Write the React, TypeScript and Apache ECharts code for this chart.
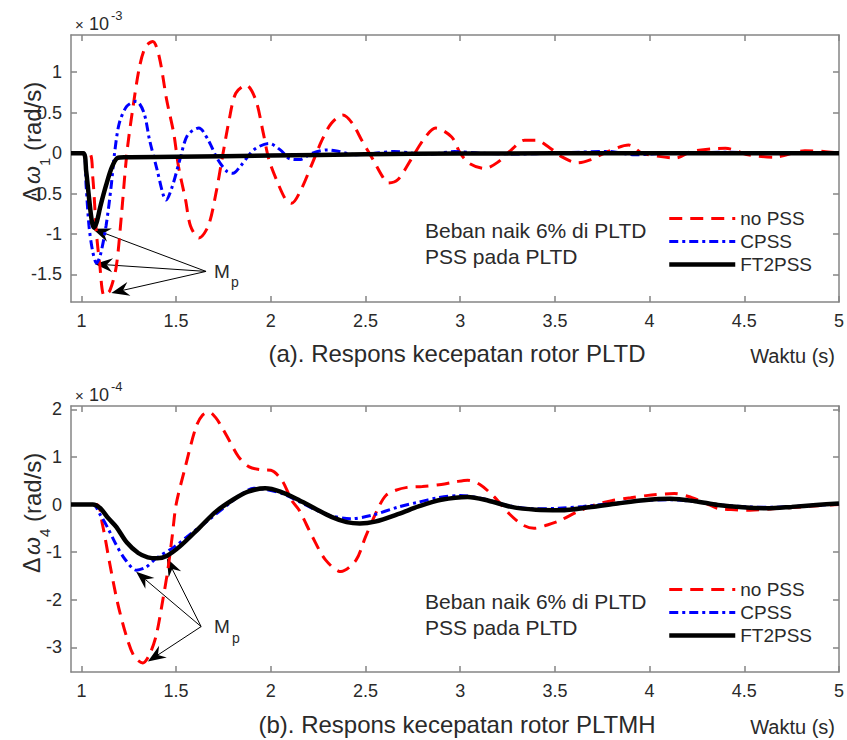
import React, { useEffect, useRef } from 'react';
import * as echarts from 'echarts';

// Shared axis settings
const xTicks = [1, 1.5, 2, 2.5, 3, 3.5, 4, 4.5, 5];
const xRange = [0.945, 5];

// (a) Δω1, plotted in units of 1e-3 rad/s
const yTicksA = [-1.5, -1, -0.5, 0, 0.5, 1];
const yRangeA = [-1.84, 1.46];
// (b) Δω4, plotted in units of 1e-4 rad/s
const yTicksB = [-3, -2, -1, 0, 1, 2];
const yRangeB = [-3.52, 2.07];

const seriesNames = ['no PSS', 'CPSS', 'FT2PSS'];

// ---- (a) rotor speed deviation of PLTD: [time (s), value] ----
const noPssA = [
  [0.945, 0], [1.04, 0], [1.06, -0.3], [1.079, -0.98], [1.096, -1.36], [1.12, -1.76], [1.15, -1.7],
  [1.184, -1.4], [1.21, -0.8], [1.24, 0], [1.27, 0.53], [1.307, 1.07], [1.34, 1.32], [1.377, 1.38],
  [1.41, 1.2], [1.45, 0.66], [1.487, 0.25], [1.513, -0.17], [1.55, -0.58], [1.576, -0.9], [1.62, -1.05],
  [1.67, -0.9], [1.71, -0.5], [1.745, -0.04], [1.78, 0.41], [1.815, 0.74], [1.87, 0.84], [1.92, 0.66],
  [1.96, 0.25], [1.99, -0.08], [2.03, -0.33], [2.08, -0.58], [2.11, -0.62], [2.16, -0.45], [2.22, -0.12],
  [2.27, 0.16], [2.32, 0.37], [2.38, 0.47], [2.43, 0.37], [2.48, 0.16], [2.54, -0.08], [2.59, -0.29],
  [2.62, -0.37], [2.67, -0.33], [2.74, -0.08], [2.81, 0.18], [2.87, 0.31], [2.955, 0.2], [3.0, 0],
  [3.05, -0.13], [3.13, -0.19], [3.2, -0.11], [3.27, 0.04], [3.34, 0.16], [3.4, 0.16], [3.47, 0.07],
  [3.54, -0.05], [3.62, -0.12], [3.69, -0.08], [3.78, 0.02], [3.89, 0.1], [3.96, 0], [4.05, -0.04],
  [4.14, -0.06], [4.22, 0.02], [4.4, 0.06], [4.52, -0.02], [4.66, -0.05], [4.82, 0.03], [4.92, 0.02], [5, 0],
];
const cpssA = [
  [0.945, 0], [1.01, 0], [1.025, -0.41], [1.04, -0.9], [1.06, -1.22], [1.08, -1.36], [1.1, -1.26],
  [1.13, -0.9], [1.157, -0.41], [1.175, 0], [1.2, 0.37], [1.24, 0.58], [1.29, 0.64], [1.33, 0.5],
  [1.36, 0.16], [1.4, -0.21], [1.43, -0.5], [1.447, -0.58], [1.48, -0.41], [1.52, -0.08], [1.56, 0.22],
  [1.62, 0.31], [1.67, 0.16], [1.72, -0.08], [1.77, -0.23], [1.8, -0.25], [1.84, -0.16], [1.91, 0.04],
  [1.99, 0.12], [2.05, 0.04], [2.1, -0.07], [2.15, -0.08], [2.22, 0], [2.3, 0.04], [2.36, 0.02],
  [2.45, -0.02], [2.55, 0], [2.65, 0.02], [2.75, 0], [2.85, -0.01], [2.97, 0.02], [3.1, 0], [3.3, -0.01],
  [3.5, 0], [3.78, 0.02], [3.92, -0.02], [4.1, 0], [4.4, 0.01], [4.7, 0], [5, 0],
];
const ft2pssA = [
  [0.945, 0], [1.01, 0], [1.025, -0.22], [1.04, -0.55], [1.055, -0.84], [1.066, -0.92], [1.08, -0.86],
  [1.1, -0.66], [1.13, -0.4], [1.16, -0.18], [1.19, -0.06], [1.23, -0.05], [1.5, -0.045], [2.0, -0.03],
  [2.5, -0.015], [3.0, -0.005], [4.0, 0], [5, 0],
];

// ---- (b) rotor speed deviation of PLTMH: [time (s), value] ----
const noPssB = [
  [0.945, 0], [1.08, 0], [1.11, -0.4], [1.15, -1.25], [1.19, -2.05], [1.24, -2.8], [1.28, -3.2],
  [1.324, -3.33], [1.36, -3.15], [1.395, -2.75], [1.43, -2.0], [1.456, -1.38], [1.48, -0.65], [1.5, 0],
  [1.544, 0.72], [1.605, 1.63], [1.64, 1.88], [1.675, 1.94], [1.71, 1.82], [1.745, 1.6], [1.78, 1.35],
  [1.83, 1.0], [1.886, 0.79], [1.95, 0.73], [2.0, 0.72], [2.06, 0.5], [2.11, 0.09], [2.15, -0.12],
  [2.22, -0.68], [2.29, -1.17], [2.37, -1.41], [2.45, -1.17], [2.5, -0.68], [2.57, -0.05], [2.61, 0.2],
  [2.66, 0.3], [2.72, 0.36], [2.8, 0.38], [2.9, 0.42], [2.98, 0.48], [3.04, 0.51], [3.1, 0.43],
  [3.18, 0.16], [3.26, -0.2], [3.33, -0.43], [3.39, -0.5], [3.46, -0.43], [3.53, -0.33], [3.62, -0.15],
  [3.71, -0.01], [3.8, 0.08], [3.9, 0.14], [4.01, 0.2], [4.13, 0.23], [4.22, 0.15], [4.3, 0.02],
  [4.36, -0.08], [4.45, -0.11], [4.53, -0.12], [4.65, -0.09], [4.8, -0.05], [4.9, -0.02], [5, 0],
];
const cpssB = [
  [0.945, 0], [1.06, 0], [1.1, -0.22], [1.14, -0.5], [1.18, -0.82], [1.23, -1.15], [1.29, -1.38],
  [1.34, -1.32], [1.395, -1.13], [1.49, -0.89], [1.58, -0.61], [1.67, -0.33], [1.78, 0.02], [1.85, 0.23],
  [1.91, 0.34], [1.97, 0.32], [2.06, 0.23], [2.15, 0.06], [2.24, -0.12], [2.32, -0.24], [2.42, -0.3],
  [2.53, -0.23], [2.675, -0.05], [2.78, 0.05], [2.88, 0.14], [3.0, 0.19], [3.12, 0.12], [3.25, -0.02],
  [3.38, -0.09], [3.52, -0.08], [3.65, -0.04], [3.8, 0.02], [3.95, 0.08], [4.1, 0.1], [4.24, 0.06],
  [4.38, -0.01], [4.52, -0.05], [4.65, -0.06], [4.8, -0.03], [5, 0.01],
];
const ft2pssB = [
  [0.945, 0], [1.06, 0], [1.1, -0.08], [1.14, -0.28], [1.184, -0.47], [1.24, -0.8], [1.3, -1.02],
  [1.35, -1.11], [1.4, -1.13], [1.45, -1.08], [1.52, -0.88], [1.62, -0.5], [1.71, -0.15], [1.8, 0.1],
  [1.88, 0.27], [1.97, 0.34], [2.05, 0.27], [2.15, 0.09], [2.24, -0.1], [2.32, -0.26], [2.4, -0.37],
  [2.47, -0.4], [2.55, -0.36], [2.68, -0.19], [2.78, -0.04], [2.9, 0.1], [3.04, 0.16], [3.15, 0.08],
  [3.27, -0.05], [3.4, -0.11], [3.53, -0.12], [3.68, -0.06], [3.83, 0.02], [3.97, 0.09], [4.11, 0.12],
  [4.24, 0.07], [4.36, -0.01], [4.49, -0.06], [4.62, -0.08], [4.75, -0.05], [4.88, -0.01], [5, 0.02],
];

// Mp pointers: [from, to] in data units of each panel
const mpArrowsA = [
  [[1.658, -1.462], [1.059, -0.935]],
  [[1.658, -1.462], [1.07, -1.37]],
  [[1.658, -1.462], [1.158, -1.728]],
];
const mpArrowsB = [
  [[1.632, -2.566], [1.451, -1.132]],
  [[1.632, -2.566], [1.289, -1.413]],
  [[1.632, -2.566], [1.351, -3.3]],
];

const FONT = '"Liberation Sans", Arial, Helvetica, sans-serif';
const TXT = '#2a2a2a';
const AXC = '#858585';

const lineStyles = [
  { color: '#ff0000', width: 3, type: [13, 8] },
  { color: '#0000ff', width: 3, type: [9, 4, 3, 4] },
  { color: '#000000', width: 4.5, type: 'solid' },
];

const GRID_LEFT = 71;
const GRID_W = 770;
const GRID_A_TOP = 35;
const GRID_B_TOP = 406;
const GRID_H = 267;
const DY = GRID_B_TOP - GRID_A_TOP;

function xAxisCfg(gridIndex: number, position: 'bottom' | 'top') {
  const bottom = position === 'bottom';
  return {
    type: 'value',
    gridIndex,
    position,
    min: xRange[0],
    max: xRange[1],
    splitLine: { show: false },
    axisLine: { show: true, onZero: false, lineStyle: { color: AXC, width: 1.5 } },
    axisTick: { show: true, inside: true, length: 6, customValues: xTicks, lineStyle: { color: AXC, width: 1.5 } },
    axisLabel: {
      show: bottom,
      customValues: xTicks,
      margin: 10,
      fontSize: 18,
      fontFamily: FONT,
      color: TXT,
      formatter: (v: number) => String(v),
    },
  };
}

function yAxisCfg(gridIndex: number, position: 'left' | 'right', range: number[], ticks: number[]) {
  const left = position === 'left';
  return {
    type: 'value',
    gridIndex,
    position,
    min: range[0],
    max: range[1],
    splitLine: { show: false },
    axisLine: { show: true, onZero: false, lineStyle: { color: AXC, width: 1.5 } },
    axisTick: { show: true, inside: true, length: 6, customValues: ticks, lineStyle: { color: AXC, width: 1.5 } },
    axisLabel: {
      show: left,
      customValues: ticks,
      margin: 9,
      fontSize: 18,
      fontFamily: FONT,
      color: TXT,
      formatter: (v: number) => String(v),
    },
  };
}

function lineSeries(name: string, data: number[][], styleIdx: number, axisIdx: number) {
  const s = lineStyles[styleIdx];
  return {
    type: 'line',
    name,
    xAxisIndex: axisIdx,
    yAxisIndex: axisIdx,
    data,
    symbol: 'none',
    showSymbol: false,
    smooth: 0.3,
    silent: true,
    z: 2 + styleIdx,
    itemStyle: { color: s.color },
    lineStyle: { color: s.color, width: s.width, type: s.type, cap: 'butt' },
  };
}

function legendCfg(top: number) {
  return {
    data: seriesNames,
    left: 667,
    top,
    orient: 'vertical',
    padding: 0,
    itemWidth: 66,
    itemHeight: 14,
    itemGap: 4,
    selectedMode: false,
    // line-only keys: hide the marker glyph, keep the stroke
    itemStyle: { opacity: 0 },
    lineStyle: { width: 'inherit', opacity: 1 },
    textStyle: { fontSize: 19, fontFamily: FONT, color: TXT },
  };
}

const baseOption = {
  animation: false,
  backgroundColor: '#ffffff',
  grid: [
    { left: GRID_LEFT, top: GRID_A_TOP, width: GRID_W, height: GRID_H },
    { left: GRID_LEFT, top: GRID_B_TOP, width: GRID_W, height: GRID_H - 1 },
  ],
  xAxis: [xAxisCfg(0, 'bottom'), xAxisCfg(0, 'top'), xAxisCfg(1, 'bottom'), xAxisCfg(1, 'top')],
  yAxis: [
    yAxisCfg(0, 'left', yRangeA, yTicksA),
    yAxisCfg(0, 'right', yRangeA, yTicksA),
    yAxisCfg(1, 'left', yRangeB, yTicksB),
    yAxisCfg(1, 'right', yRangeB, yTicksB),
  ],
  legend: [legendCfg(209), legendCfg(209 + DY)],
  series: [
    lineSeries(seriesNames[0], noPssA, 0, 0),
    lineSeries(seriesNames[1], cpssA, 1, 0),
    lineSeries(seriesNames[2], ft2pssA, 2, 0),
    lineSeries(seriesNames[0], noPssB, 0, 2),
    lineSeries(seriesNames[1], cpssB, 1, 2),
    lineSeries(seriesNames[2], ft2pssB, 2, 2),
  ],
};

function text(x: number, y: number, str: string, fontSize: number, extra: any = {}) {
  return {
    type: 'text',
    x,
    y,
    silent: true,
    style: {
      text: str,
      fontSize,
      fontFamily: FONT,
      fill: TXT,
      align: 'left',
      verticalAlign: 'middle',
      ...extra,
    },
  };
}

// Rotated y-axis title: Δω with subscript, then the unit (reads bottom to top)
function yTitle(cx: number, bottomY: number, sub: string) {
  return {
    type: 'group',
    x: cx,
    y: bottomY,
    rotation: Math.PI / 2,
    silent: true,
    children: [
      text(1, 0, 'Δ', 23),
      text(19, 0, 'ω', 23, { fontStyle: 'italic' }),
      text(37, 12, sub, 15),
      text(52, 0, '(rad/s)', 24),
    ],
  };
}

function panelTexts(dy: number, exp: string, sub: string, caption: string) {
  return [
    text(75, 24 + dy, '×', 15),
    text(89, 24 + dy, '10', 18),
    text(111, 15 + dy, exp, 13),
    yTitle(32, 203 + dy, sub),
    text(425, 230 + dy, 'Beban naik 6% di PLTD', 21),
    text(425, 256 + dy, 'PSS pada PLTD', 21),
    text(457, 353 + dy, caption, 24, { align: 'center' }),
    text(835, 356 + dy, 'Waktu (s)', 20, { align: 'right' }),
  ];
}

function arrowGraphics(chart: any, arrows: number[][][], seriesIndex: number) {
  const out: any[] = [];
  const L = 18;
  const W = 7;
  const N = 12;
  arrows.forEach(([from, to]) => {
    const p0 = chart.convertToPixel({ seriesIndex }, from);
    const p1 = chart.convertToPixel({ seriesIndex }, to);
    const dx = p1[0] - p0[0];
    const dy = p1[1] - p0[1];
    const len = Math.hypot(dx, dy);
    const ux = dx / len;
    const uy = dy / len;
    const nx = -uy;
    const ny = ux;
    const bx = p1[0] - ux * L;
    const by = p1[1] - uy * L;
    const notch = [p1[0] - ux * N, p1[1] - uy * N];
    out.push({
      type: 'line',
      silent: true,
      shape: { x1: p0[0], y1: p0[1], x2: notch[0], y2: notch[1] },
      style: { stroke: '#000', lineWidth: 1 },
    });
    out.push({
      type: 'polygon',
      silent: true,
      shape: { points: [p1, [bx + nx * W, by + ny * W], notch, [bx - nx * W, by - ny * W]] },
      style: { fill: '#000' },
    });
  });
  return out;
}

export default function App() {
  const ref = useRef<HTMLDivElement>(null);

  useEffect(() => {
    if (!ref.current) return;
    const chart = echarts.init(ref.current, null, { renderer: 'svg' });
    chart.setOption(baseOption as any);

    const graphics = [
      ...panelTexts(0, '-3', '1', '(a). Respons kecepatan rotor PLTD'),
      ...panelTexts(DY, '-4', '4', '(b). Respons kecepatan rotor PLTMH'),
      text(214, 271, 'M', 19),
      text(231, 282, 'p', 14),
      text(214, 626, 'M', 19),
      text(232, 638, 'p', 14),
      ...arrowGraphics(chart, mpArrowsA, 2),
      ...arrowGraphics(chart, mpArrowsB, 5),
    ];
    chart.setOption({ graphic: graphics } as any);

    return () => chart.dispose();
  }, []);

  return (
    <div
      ref={ref}
      style={{ position: 'fixed', left: 0, top: 0, width: 847, height: 740, background: '#fff' }}
    />
  );
}
